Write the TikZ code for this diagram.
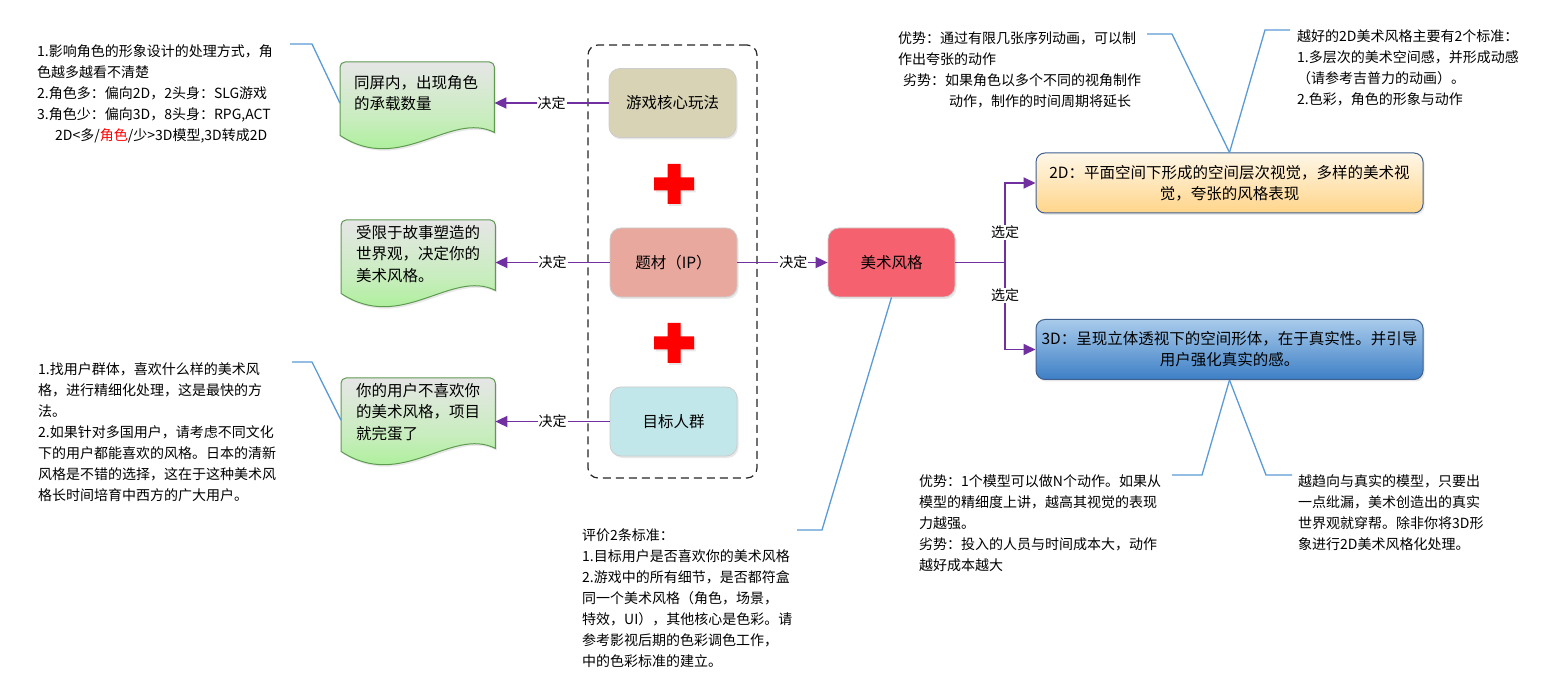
\documentclass[tikz,border=0pt]{standalone}
\usepackage{fontspec}
\setmainfont{Noto Sans CJK SC}
\usetikzlibrary{arrows.meta,calc,shadows}
\definecolor{purp}{HTML}{7030A0}
\definecolor{calloutblue}{HTML}{5B9BD5}
\definecolor{tanfill}{HTML}{D8D3B5}
\definecolor{salmonfill}{HTML}{E9A89E}
\definecolor{cyanfill}{HTML}{C2E7EA}
\definecolor{pinkfill}{HTML}{F5616E}
\definecolor{notegreen}{HTML}{98F27F}
\definecolor{notemid}{HTML}{C8EDBE}
\definecolor{notegray}{HTML}{E6E6E6}
\definecolor{noteedge}{HTML}{5E9A50}
\definecolor{boxedge}{HTML}{3F5F8F}
\definecolor{orangetop}{HTML}{FFF7E8}
\definecolor{orangebot}{HTML}{FFD58A}
\definecolor{bluetop}{HTML}{A9CBEB}
\definecolor{bluebot}{HTML}{3D7FC6}
\tikzset{
  shadowed/.style={drop shadow={opacity=0.18,shadow xshift=1.5pt,shadow yshift=-2pt}},
  gbox/.style={rounded corners=11pt, draw=black!20, line width=0.8pt, minimum width=127pt,
    minimum height=69pt, inner sep=0pt, font=\fontsize{15.5}{20}\selectfont, shadowed},
  wbox/.style={rounded corners=9pt, draw=boxedge, line width=1pt, minimum width=387pt,
    minimum height=60pt, align=center, inner sep=0pt, font=\fontsize{15.5}{21}\selectfont, shadowed},
  dashbox/.style={draw=black!85, line width=1.2pt, dash pattern=on 8pt off 5pt, rounded corners=10pt,
    minimum width=169pt, minimum height=433pt, inner sep=0pt},
  notearea/.style={minimum width=154pt, minimum height=70pt, inner sep=0pt, anchor=north west},
  notebody/.style={top color=notegray, bottom color=notegreen, middle color=notemid, draw=noteedge, line width=1pt, shadowed},
  notetxt/.style={font=\fontsize{15.5}{21.5}\selectfont, align=left, inner sep=0pt, anchor=north west},
  ann/.style={font=\fontsize{14}{21}\selectfont, align=left, inner sep=0pt, anchor=north west},
  decarrow/.style={draw=purp, line width=1.8pt, -{Triangle[length=12pt,width=11pt]}},
  lbl/.style={fill=white, inner sep=1pt, font=\fontsize{14}{16}\selectfont, text=black},
  callout/.style={draw=calloutblue, line width=1.3pt},
  redcross/.style={fill=red, shadowed}
}
\newcommand\mynote[1]{%
  \shadedraw[notebody] ($(#1.south west)+(0,3)$) [rounded corners=5pt] -- (#1.north west) -- (#1.north east) [sharp corners] -- (#1.south east)
   .. controls ($(#1.south east)+(-44,-22)$) and ($(#1.south east)+(-94,43)$) .. ($(#1.south west)+(0,3)$) -- cycle;}
\newcommand\mycross[1]{%
  \fill[redcross] ([shift={(-6.5,-20)}]#1) -- ++(13,0) -- ++(0,13.5) -- ++(13.5,0) -- ++(0,13)
   -- ++(-13.5,0) -- ++(0,13.5) -- ++(-13,0) -- ++(0,-13.5) -- ++(-13.5,0) -- ++(0,-13) -- ++(13.5,0) -- cycle;}
\begin{document}
\begin{tikzpicture}[x=1pt,y=-1pt]
\fill[white] (0,0) rectangle (1545,700);
\useasboundingbox (0,0) rectangle (1545,700);

% dashed group
\node[dashbox] (grp) at (672.5,261.5) {};

% core boxes
\node[gbox, fill=tanfill] (g1) at (672.5,103) {游戏核心玩法};
\node[gbox, fill=salmonfill] (g2) at (673.5,262.5) {题材（IP）};
\node[gbox, fill=cyanfill] (g3) at (673.5,421.5) {目标人群};
\coordinate (c1) at (674,184);
\coordinate (c2) at (674,343);
\mycross{c1}
\mycross{c2}

% art style
\node[gbox, fill=pinkfill] (ms) at (891.5,262.5) {美术风格};

% 2D / 3D boxes
\node[wbox, top color=orangetop, bottom color=orangebot] (b2d) at (1229.5,183)
  {2D：平面空间下形成的空间层次视觉，多样的美术视\\觉，夸张的风格表现};
\node[wbox, top color=bluetop, bottom color=bluebot] (b3d) at (1229.5,349.5)
  {3D：呈现立体透视下的空间形体，在于真实性。并引导\\用户强化真实的感。};

% notes
\node[notearea] (n1) at (340,62) {};
\node[notearea] (n2) at (341,220) {};
\node[notearea] (n3) at (341,378) {};
\mynote{n1}
\mynote{n2}
\mynote{n3}
\node[notetxt] (n1t) at (354,75) {同屏内，出现角色\\的承载数量};
\node[notetxt] (n2t) at (356,225) {受限于故事塑造的\\世界观，决定你的\\美术风格。};
\node[notetxt] (n3t) at (356,383) {你的用户不喜欢你\\的美术风格，项目\\就完蛋了};

% arrows
\draw[decarrow] (g1.west) -- node[lbl] {决定} (g1.west -| n1.east);
\draw[decarrow] (g2.west) -- node[lbl] {决定} (g2.west -| n2.east);
\draw[decarrow] (g3.west) -- node[lbl] {决定} (g3.west -| n3.east);
\draw[decarrow] (g2.east) -- node[lbl, pos=0.62] {决定} (ms.west);
\coordinate (fork) at (1005,262.5);
\draw[draw=purp, line width=1.8pt] (ms.east) -- (fork);
\draw[decarrow] (fork) |- node[lbl, pos=0.19] {选定} (b2d.west);
\draw[decarrow] (fork) |- node[lbl, pos=0.19] {选定} (b3d.west);

% annotation texts
\node[ann] (tA) at (37,44) {1.影响角色的形象设计的处理方式，角\\色越多越看不清楚\\2.角色多：偏向2D，2头身：SLG游戏\\3.角色少：偏向3D，8头身：RPG,ACT\\\hspace*{18pt}2D<多/\textcolor{red}{角色}/少>3D模型,3D转成2D};
\node[ann] (tB) at (38,362) {1.找用户群体，喜欢什么样的美术风\\格，进行精细化处理，这是最快的方\\法。\\2.如果针对多国用户，请考虑不同文化\\下的用户都能喜欢的风格。日本的清新\\风格是不错的选择，这在于这种美术风\\格长时间培育中西方的广大用户。};
\node[ann] (tC) at (898,31) {优势：通过有限几张序列动画，可以制\\作出夸张的动作\\\hspace*{5pt}劣势：如果角色以多个不同的视角制作\\\hspace*{51pt}动作，制作的时间周期将延长};
\node[ann] (tD) at (1297,29) {越好的2D美术风格主要有2个标准：\\1.多层次的美术空间感，并形成动感\\（请参考吉普力的动画）。\\2.色彩，角色的形象与动作};
\node[ann] (tE) at (582,529) {评价2条标准：\\1.目标用户是否喜欢你的美术风格\\2.游戏中的所有细节，是否都符盒\\同一个美术风格（角色，场景，\\特效，UI），其他核心是色彩。请\\参考影视后期的色彩调色工作，\\中的色彩标准的建立。};
\node[ann] (tF) at (919,475) {优势：1个模型可以做N个动作。如果从\\模型的精细度上讲，越高其视觉的表现\\力越强。\\劣势：投入的人员与时间成本大，动作\\越好成本越大};
\node[ann] (tG) at (1298,474) {越趋向与真实的模型，只要出\\一点纰漏，美术创造出的真实\\世界观就穿帮。除非你将3D形\\象进行2D美术风格化处理。};

% callouts
\coordinate (kA) at (290,44);
\coordinate (kB) at (292,362);
\coordinate (kC) at (1147,34);
\coordinate (kD) at (1290,30);
\coordinate (kE) at (797,530);
\coordinate (kF) at (1172,475);
\coordinate (kG) at (1292,475);
\draw[callout] (kA) -- ++(22,0) -- ($(n1.west)+(0,6)$);
\draw[callout] (kB) -- ++(20,0) -- ($(n3.west)+(0,7)$);
\draw[callout] (kC) -- ++(25,0) -- (b2d.north);
\draw[callout] (kD) -- ++(-25,0) -- (b2d.north);
\draw[callout] (kF) -- ++(30,0) -- (b3d.south);
\draw[callout] (kG) -- ++(-26,0) -- (b3d.south);
\draw[callout] (kE) -- ++(25,0) -- (ms.south);
\end{tikzpicture}
\end{document}
